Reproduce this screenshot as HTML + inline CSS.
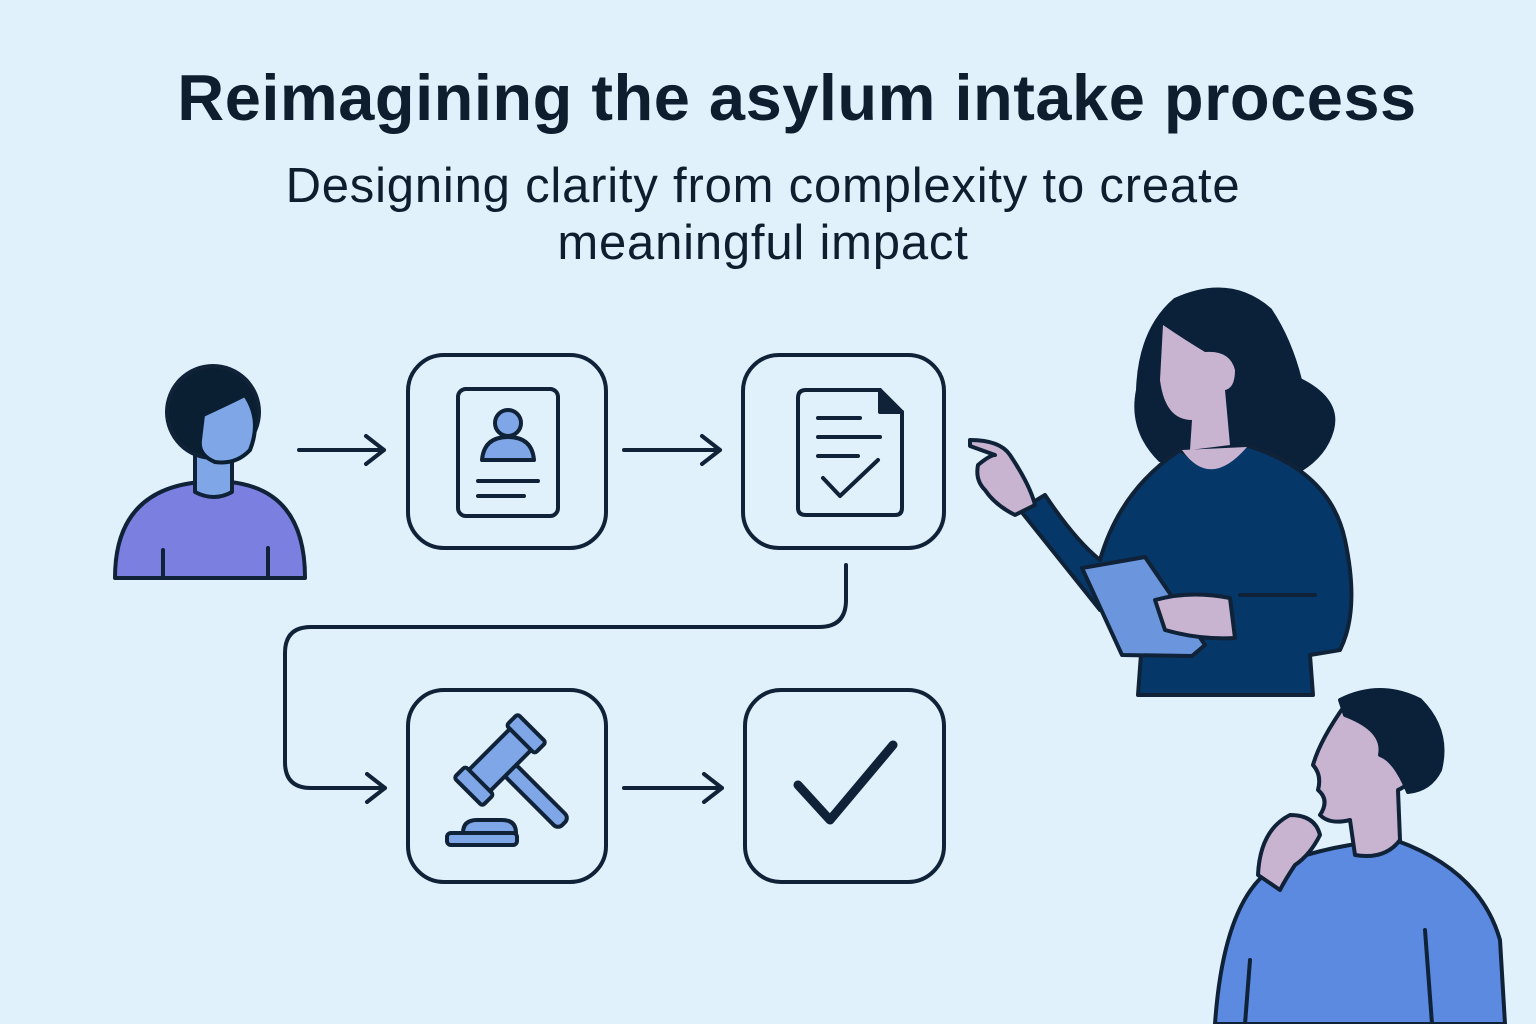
<!DOCTYPE html>
<html><head><meta charset="utf-8"><style>
html,body{margin:0;padding:0;background:#E1F1FC;}
body{width:1536px;height:1024px;overflow:hidden;position:relative;font-family:"Liberation Sans",sans-serif;color:#0f1e2e;}
.t{position:absolute;left:0;width:1594px;text-align:center;top:60px;font-size:65px;font-weight:bold;letter-spacing:0.5px;}
.s{position:absolute;left:0;width:1526px;text-align:center;top:158px;font-size:49px;line-height:57px;letter-spacing:0.8px;}
svg{position:absolute;left:0;top:0;}
</style></head><body>
<div class="t">Reimagining the asylum intake process</div>
<div class="s">Designing clarity from complexity to create<br>meaningful impact</div>
<svg width="1536" height="1024" viewBox="0 0 1536 1024" fill="none" stroke="#0f2237" stroke-width="4" stroke-linecap="round" stroke-linejoin="round">
<rect x="408" y="355" width="198" height="193" rx="36"/>
<rect x="743" y="355" width="201" height="193" rx="36"/>
<rect x="408" y="690" width="198" height="192" rx="36"/>
<rect x="745" y="690" width="199" height="192" rx="36"/>
<path d="M299 450H384M366 436l18 14-18 14"/>
<path d="M624 450H720M702 436l18 14-18 14"/>
<path d="M624 788H722M704 774l18 14-18 14"/>
<path d="M846 565V600Q846 627 819 627H311Q285 627 285 653V762Q285 788 311 788H385M367 774l18 14-18 14"/>
<rect x="458" y="389" width="100" height="127" rx="8"/>
<circle cx="508" cy="423" r="13" fill="#7fa6e6"/>
<path d="M482 460Q484 437 508 437Q532 437 534 460Z" fill="#7fa6e6"/>
<path d="M478 481H538M478 496H524"/>
<path d="M806 390H880L902 412V508Q902 515 895 515H806Q798 515 798 508V398Q798 390 806 390Z"/>
<path d="M880 390V412H902" fill="#0f2237"/>
<path d="M818 418H860M818 437H880M818 456H858M823 478L840 496L878 460"/>
<g fill="#7fa6e6" transform="rotate(-45 500 760)">
<rect x="492" y="772" width="16" height="78" rx="6"/>
<rect x="470" y="745" width="60" height="30" rx="3"/>
<rect x="455" y="740" width="16" height="40" rx="3"/>
<rect x="529" y="740" width="16" height="40" rx="3"/>
</g>
<g fill="#7fa6e6">
<path d="M463 833Q463 820 477 820H502Q516 820 516 833Z"/>
<rect x="447" y="833" width="70" height="12" rx="4"/>
</g>
<path d="M798 785L830 820L893 745" stroke-width="9"/>
<path d="M115 578Q115 490 200 482H230Q305 490 305 578Z" fill="#7b80e0"/>
<path d="M163 578V550M268 578V548"/>
<path d="M195 492V450H232V492Q214 502 195 492Z" fill="#7fa6e6"/>
<circle cx="213" cy="412" r="46" fill="#0b1f33"/>
<path d="M203 415Q225 405 245 395Q262 420 250 450Q236 465 215 462Q198 455 200 440Z" fill="#7fa6e6" stroke="#0b1f33"/>
<path d="M1175 300Q1230 275 1270 310Q1290 340 1300 380Q1340 400 1332 430Q1325 455 1300 470L1240 470L1160 460Q1130 430 1138 390Q1140 330 1175 300Z" fill="#0b2139" stroke="#0b2139"/>
<path d="M1163 325Q1185 340 1205 352Q1230 350 1235 370Q1235 388 1225 390L1230 445L1190 450L1192 420Q1165 420 1160 380Z" fill="#c8b3d0" stroke="none"/>
<path d="M1138 695L1145 600Q1115 590 1100 610Q1060 560 1020 510L1045 495Q1075 540 1100 560Q1120 490 1180 450Q1210 470 1245 445Q1330 470 1345 540Q1360 610 1340 650L1310 655L1313 695Z" fill="#063769"/>
<path d="M1182 450Q1210 490 1247 447Z" fill="#c8b3d0" stroke="none"/>
<path d="M970 440Q1000 440 1010 455Q1030 485 1035 505L1015 515Q995 505 985 490Q975 480 978 465Q990 455 995 455L970 446Z" fill="#c8b3d0"/>
<path d="M1082 568L1145 557L1205 645L1192 656L1122 655Z" fill="#6b96de"/>
<path d="M1155 600Q1190 590 1230 598L1235 638Q1200 640 1165 630Z" fill="#c8b3d0"/>
<path d="M1240 595H1315"/>
<path d="M1215 1024Q1225 880 1290 860Q1320 850 1350 845L1395 840Q1480 870 1500 940L1505 1024Z" fill="#5b8ae0"/>
<path d="M1345 705Q1320 740 1313 765Q1322 775 1318 790Q1330 800 1320 815Q1330 825 1350 820L1355 855Q1385 860 1400 840L1398 790Q1420 780 1405 760Z" fill="#c8b3d0"/>
<path d="M1340 700Q1380 680 1420 700Q1450 730 1440 770Q1430 790 1408 792Q1395 760 1380 755Q1385 730 1345 715Z" fill="#0b2139" stroke="#0b2139"/>
<path d="M1258 875Q1260 830 1290 815Q1315 815 1320 835Q1310 855 1295 865Q1285 880 1280 890Z" fill="#c8b3d0"/>
<path d="M1425 930L1432 1024M1250 960L1245 1024"/>
</svg>
</body></html>
